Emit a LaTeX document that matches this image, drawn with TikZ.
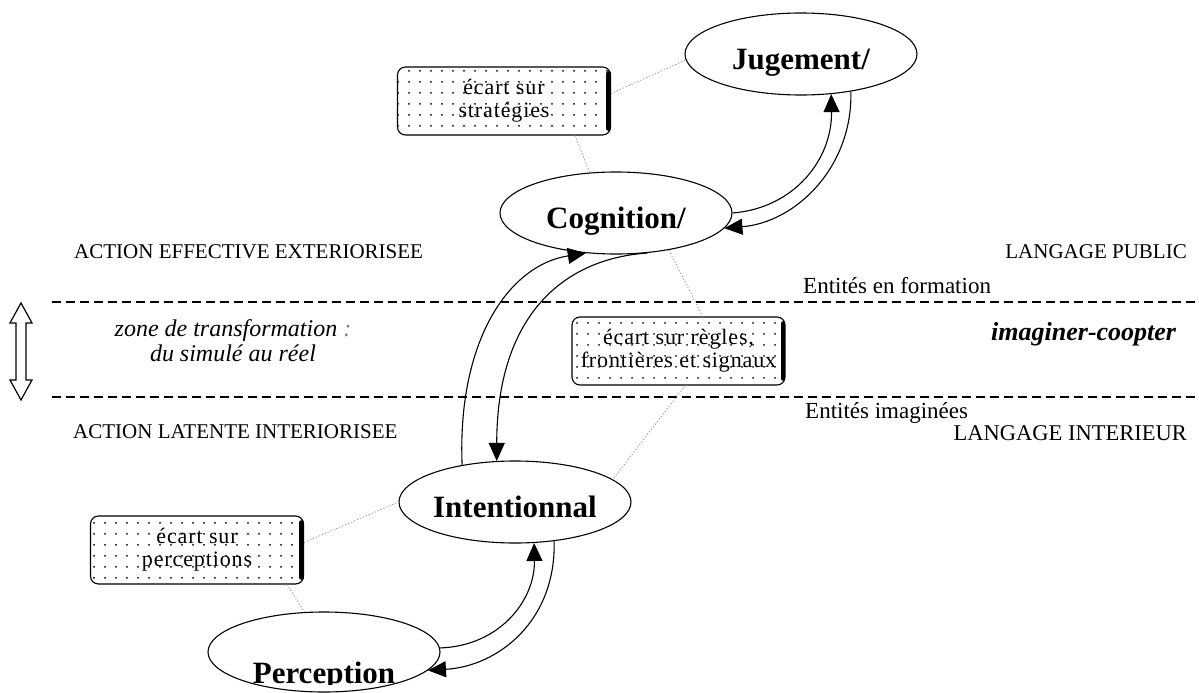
\documentclass[tikz,border=0pt]{standalone}
\usepackage{fontspec}
\setmainfont{Liberation Serif}
\newfontfamily\boxfont[LetterSpace=4]{Liberation Serif}
\usetikzlibrary{arrows.meta,patterns.meta,shapes.geometric}
\begin{document}
\begin{tikzpicture}[x=1pt,y=-1pt,
  ell/.style={ellipse, draw, line width=1.1pt, minimum width=232pt, minimum height=82pt,
    inner sep=0pt, text height=31pt, text depth=0pt, font=\fontsize{31}{36}\selectfont\bfseries},
  gapbox/.style={draw, line width=1.1pt, rounded corners=8pt,
    pattern={Dots[distance=10.5pt, radius=1pt]}, minimum width=213pt, minimum height=68pt,
    inner sep=0pt, align=center, font=\boxfont\fontsize{22}{23}\selectfont},
  boxedge/.style={line width=4.5pt, line cap=round},
  conn/.style={line width=1.1pt, -{Triangle[length=18pt,width=16pt]}},
  link/.style={draw=gray!80, line width=0.9pt, dash pattern=on 1.2pt off 2pt},
  zoneline/.style={line width=1.2pt, dash pattern=on 9pt off 5pt},
  lbl/.style={inner sep=0pt, font=\fontsize{21}{24}\selectfont},
  lbltwo/.style={inner sep=0pt, font=\fontsize{23}{26}\selectfont}]
\useasboundingbox (0,0) rectangle (1199,693);

% zone separators
\draw[zoneline] (52,302) -- (1199,302);
\draw[zoneline] (52,397) -- (1199,397);

% hollow double arrow
\draw[line width=1.2pt, line join=miter] (21,303) -- (32,323) -- (26,323) -- (26,380) -- (32,380)
  -- (21,400) -- (10,380) -- (16,380) -- (16,323) -- (10,323) -- cycle;

% ellipses
\node[ell] (jug) at (801,54) {Jugement/};
\node[ell] (cog) at (616,213) {Cognition/};
\node[ell] (int) at (515,502) {Intentionnal};
\node[ell, minimum height=80pt] (perc) at (324,652) {};
\begin{scope}
  \clip (150,600) rectangle (500,684.5);
  \node[anchor=base, inner sep=0pt, font=\fontsize{31}{36}\selectfont\bfseries] (perctext) at (324,683) {Perception};
\end{scope}

% gap boxes
\node[gapbox] (strat) at (504,101) {écart sur\\stratégies};
\node[gapbox] (rules) at (678.5,351) {écart sur règles,\\frontières et signaux};
\node[gapbox] (pbox) at (197,550) {écart sur\\perceptions};
\foreach \b in {strat,rules,pbox}
  \draw[boxedge] ([xshift=-2.5pt,yshift=-7pt]\b.north east) -- ([xshift=-2.5pt,yshift=7pt]\b.south east);

% dotted links
\draw[link] (strat.4) -- (jug.183);
\draw[link] (strat.-26) -- (cog.123);
\draw[link] (cog.-35) -- (rules.55);
\draw[link] (rules.-79) -- (int.13);
\draw[link] (pbox.4) -- (int.west);
\draw[link] (pbox.-21) -- (perc.116);

% arrows
\draw[conn] (cog.east) .. controls +(62,-5) and +(1,65) .. (jug.-53);
\draw[conn] (jug.-37) .. controls +(2,75) and +(72,-6) .. (cog.-8);
\draw[conn] (int.145) .. controls +(-5,-124) and +(-77,12) .. (cog.233);
\draw[conn] (cog.-52) .. controls +(-87,6) and +(0,-142) .. (int.114);
\draw[conn] (perc.2) .. controls +(60,-2) and +(1,57) .. (int.-65);
\draw[conn] (int.-45) .. controls +(2,80) and +(70,-4) .. (perc.-10);

% labels
\node[lbl, anchor=base west] (ae) at (74,258) {ACTION EFFECTIVE EXTERIORISEE};
\node[lbl, anchor=base west] (al) at (73,438) {ACTION LATENTE INTERIORISEE};
\node[lbl, anchor=base east] (lp) at (1187,258) {LANGAGE PUBLIC};
\node[lbl, anchor=base east, font=\fontsize{22.5}{26}\selectfont] (li) at (1187,440) {LANGAGE INTERIEUR};
\node[lbltwo, anchor=base west] (ef) at (803,293) {Entités en formation};
\node[lbltwo, anchor=base west] (ei) at (805,418) {Entités imaginées};
\node[inner sep=0pt, anchor=base west, font=\fontsize{26}{30}\selectfont\bfseries\itshape] (ic) at (991,340) {imaginer-coopter};
\node[inner sep=0pt, align=center, font=\fontsize{24}{25}\selectfont\itshape] (zt) at (233,341)
  {zone de transformation {\color{gray}:}\\du simulé au réel};
\end{tikzpicture}
\end{document}
